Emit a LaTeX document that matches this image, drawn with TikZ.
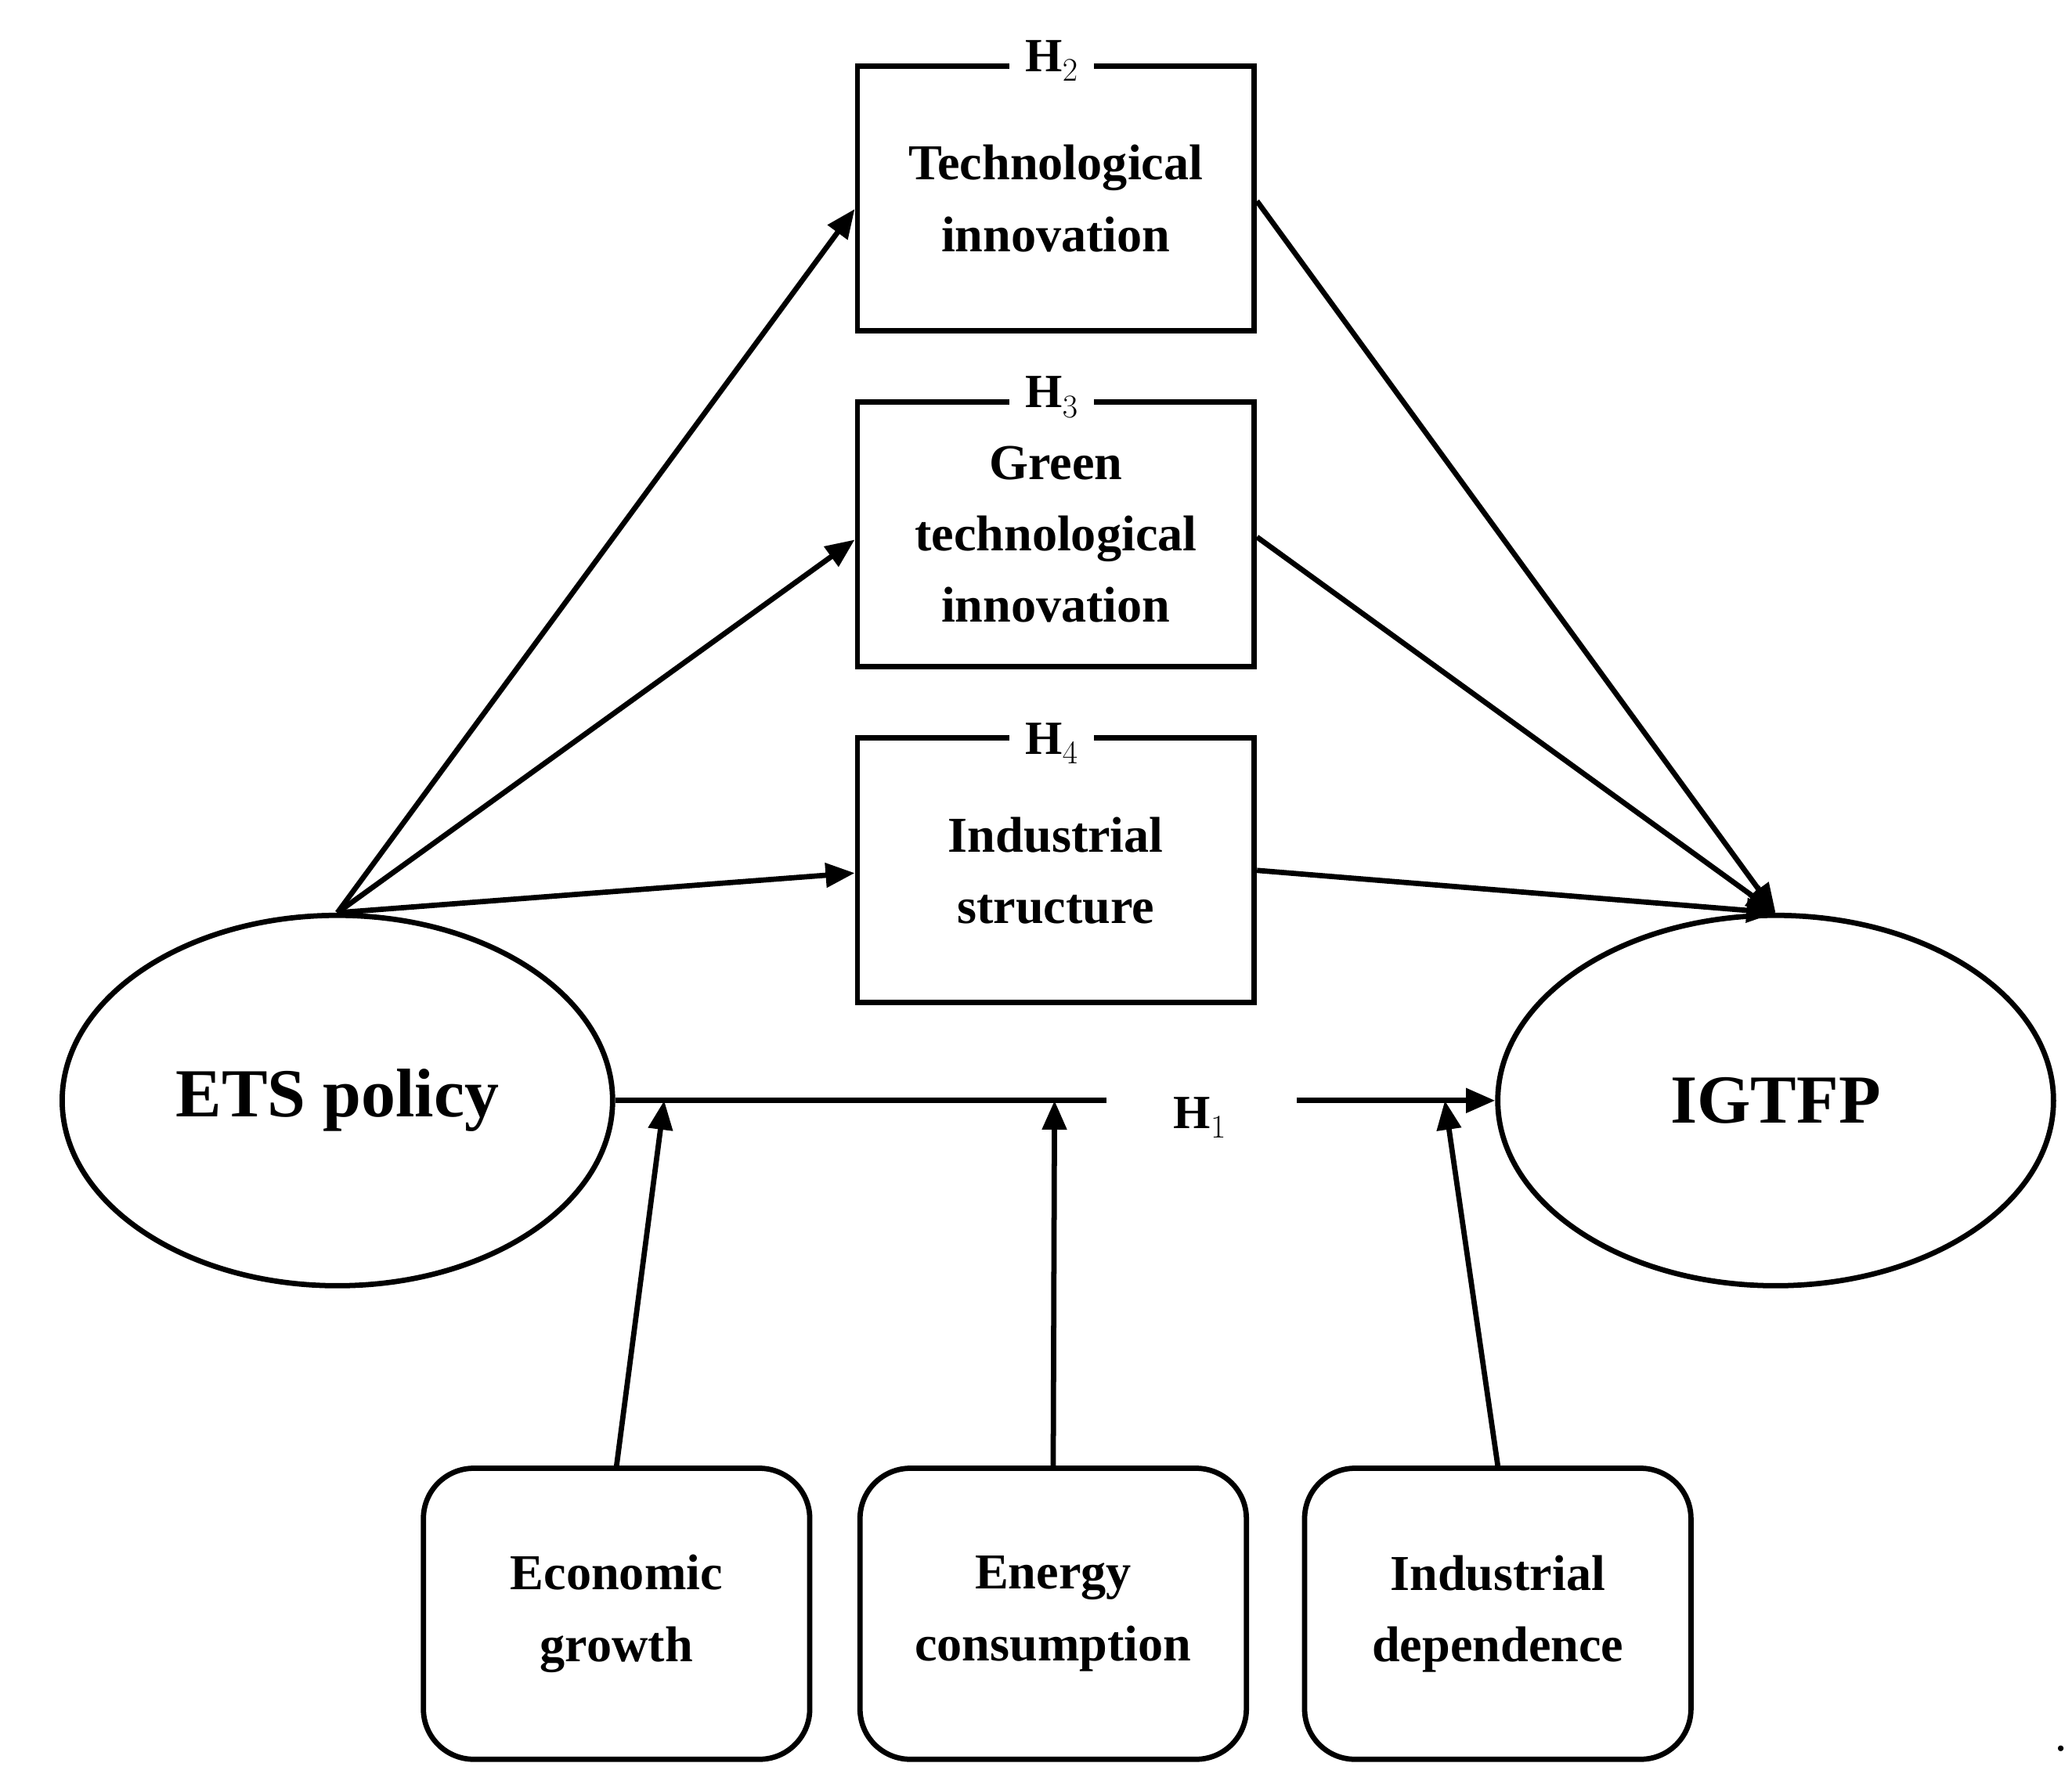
\documentclass[tikz,border=0pt]{standalone}
\usepackage{fontspec}
\setmainfont{Liberation Serif}
\usetikzlibrary{arrows.meta}
\begin{document}
\begin{tikzpicture}[x=1pt,y=-1pt,line width=4pt,
  sq/.style={draw,minimum width=300pt,minimum height=200pt,inner sep=0pt},
  rb/.style={draw,rounded corners=38pt,minimum width=292pt,minimum height=220pt,align=center,font=\fontsize{38}{54}\selectfont\bfseries},
  ell/.style={draw,ellipse,minimum width=416pt,minimum height=280pt,inner sep=0pt,font=\fontsize{52}{60}\selectfont\bfseries},
  lab/.style={font=\fontsize{38}{54}\selectfont\bfseries,align=center},
  hl/.style={font=\fontsize{36}{40}\selectfont\bfseries,fill=white,inner xsep=12pt,inner ysep=2pt},
  arr/.style={-{Triangle[length=22pt,width=18pt]}}]
\useasboundingbox (0,0) rectangle (1566,1346);
\usetikzlibrary{shapes.geometric}
\node[sq] (b2) at (798,150) {};
\node[sq] (b3) at (798,404) {};
\node[sq] (b4) at (798,658) {};
\node[hl] (h2) at (795,46) {H$_2$};
\node[hl] (h3) at (795,300) {H$_3$};
\node[hl] (h4) at (795,562) {H$_4$};
\node[lab] (t2) at (798,150) {Technological\\innovation};
\node[lab] (t3) at (798,404) {Green\\technological\\innovation};
\node[lab] (t4) at (798,658) {Industrial\\structure};
\node[draw,ellipse,minimum width=416pt,minimum height=280pt,inner sep=0pt,font=\fontsize{52}{60}\selectfont\bfseries] (ets) at (255,832) {ETS policy};
\node[draw,ellipse,minimum width=420pt,minimum height=280pt,inner sep=0pt,font=\fontsize{52}{60}\selectfont\bfseries] (ig) at (1342,832) {IGTFP};
\node[rb] (eg) at (466,1220) {Economic\\growth};
\node[rb] (ec) at (796,1220) {Energy\\consumption};
\node[rb] (id) at (1132,1220) {Industrial\\dependence};
\node[font=\fontsize{36}{40}\selectfont\bfseries] (h1) at (907,845) {H$_1$};
\node[font=\fontsize{36}{40}\selectfont] (dot) at (1558,1322) {.};
\coordinate (a) at (836,832);
\coordinate (b) at (980,832);
\coordinate (p1) at (502,832);
\coordinate (p2) at (797,832);
\coordinate (p3) at (1092,832);
\draw[arr] (ets.north) -- (b2.west |- 0,158);
\draw[arr] (ets.north) -- (b3.west |- 0,408);
\draw[arr] (ets.north) -- (b4.west |- 0,660);
\draw[arr] (b2.east |- 0,152) -- (ig.north);
\draw[arr] (b3.east |- 0,406) -- (ig.north);
\draw[arr] (b4.east |- 0,658) -- (ig.north);
\draw (ets.east) -- (a);
\draw[arr] (b) -- (ig.west);
\draw[arr] (eg.north) -- (p1);
\draw[arr] (ec.north) -- (p2);
\draw[arr] (id.north) -- (p3);
\end{tikzpicture}
\end{document}
